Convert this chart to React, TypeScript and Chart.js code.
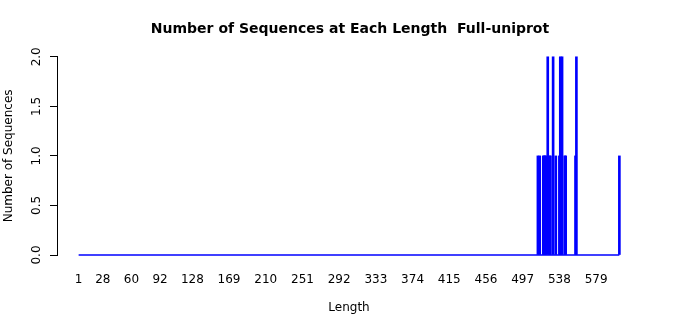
import React, { useEffect, useRef } from "react";
import { Chart, registerables } from "chart.js";

Chart.register(...registerables);

const titleText = "Number of Sequences at Each Length  Full-uniprot";
const xTitle = "Length";
const yTitle = "Number of Sequences";

const lengths = [514, 516, 520, 521, 522, 523, 525, 527, 528, 531, 534, 538, 539, 540, 541, 544, 545, 556, 557, 605];
const counts = [1, 1, 1, 1, 1, 1, 2, 1, 1, 2, 1, 1, 2, 1, 2, 1, 1, 1, 2, 1];
const minLength = 1;
const maxLength = 605;
const xTickValues = [1, 28, 60, 92, 128, 169, 210, 251, 292, 333, 374, 415, 456, 497, 538, 579];
const yTickValues = [0, 0.5, 1, 1.5, 2];

const FONT = '"DejaVu Sans", sans-serif';

export default function App() {
  const ref = useRef<HTMLCanvasElement | null>(null);

  useEffect(() => {
    document.body.style.margin = "0";
    const canvas = ref.current;
    if (!canvas) return;

    const span = maxLength - minLength;
    const xMin = minLength - 0.04 * span;
    const xMax = maxLength + 0.04 * span;

    const yLabelPlugin = {
      id: "yLabels",
      afterDraw(chart: any) {
        const ys = chart.scales.y;
        const ctx = chart.ctx;
        ctx.save();
        ctx.font = `12px ${FONT}`;
        ctx.fillStyle = "#000";
        ctx.textAlign = "center";
        ctx.textBaseline = "middle";
        for (const v of yTickValues) {
          const py = ys.getPixelForValue(v);
          ctx.save();
          ctx.translate(37, py);
          ctx.rotate(-Math.PI / 2);
          ctx.fillText(v.toFixed(1), 0, 0);
          ctx.restore();
        }
        ctx.restore();
      },
    };

    const chart = new Chart(canvas, {
      type: "bar",
      data: {
        datasets: [
          {
            type: "bar",
            data: lengths.map((l, i) => ({ x: l, y: counts[i] })),
            backgroundColor: "#0000FF",
            borderWidth: 0,
            barThickness: 2,
            clip: false,
          } as any,
          {
            type: "line",
            data: [
              { x: minLength, y: 0 },
              { x: maxLength, y: 0 },
            ],
            borderColor: "#0000FF",
            borderWidth: 1.5,
            pointRadius: 0,
            clip: false,
          } as any,
        ],
      },
      options: {
        animation: false,
        responsive: false,
        maintainAspectRatio: false,
        layout: { padding: 0 },
        plugins: {
          legend: { display: false },
          tooltip: { enabled: false },
          title: {
            display: true,
            text: titleText,
            color: "#000",
            font: { family: FONT, size: 14, weight: "bold" },
            padding: { top: 21, bottom: 19 },
          },
        },
        scales: {
          x: {
            type: "linear",
            min: xMin,
            max: xMax,
            offset: false,
            border: { display: false },
            grid: { display: false, drawTicks: false },
            afterBuildTicks: (scale: any) => {
              scale.ticks = xTickValues.map((v) => ({ value: v }));
            },
            afterFit: (scale: any) => {
              scale.height = 60;
            },
            ticks: {
              autoSkip: false,
              maxRotation: 0,
              minRotation: 0,
              padding: 18,
              color: "#000",
              font: { family: FONT, size: 12 },
              callback: (v: any) => String(v),
            },
            title: {
              display: true,
              text: xTitle,
              color: "#000",
              font: { family: FONT, size: 12 },
              padding: { top: 0, bottom: 0 },
            },
          },
          y: {
            type: "linear",
            min: 0,
            max: 2,
            border: { display: true, color: "#000", width: 1 },
            grid: {
              display: true,
              drawOnChartArea: false,
              drawTicks: true,
              tickLength: 7,
              color: "#000",
            },
            afterBuildTicks: (scale: any) => {
              scale.ticks = yTickValues.map((v) => ({ value: v }));
            },
            afterFit: (scale: any) => {
              scale.width = 57;
            },
            ticks: { display: false },
            title: {
              display: true,
              text: yTitle,
              color: "#000",
              font: { family: FONT, size: 12 },
              padding: { top: 2, bottom: 0 },
            },
          },
          yRightSpace: {
            type: "linear",
            position: "right",
            display: true,
            min: 0,
            max: 2,
            border: { display: false },
            grid: { display: false, drawTicks: false },
            ticks: { display: false },
            afterFit: (scale: any) => {
              scale.width = 59;
            },
          },
        },
      } as any,
      plugins: [yLabelPlugin],
    });

    return () => chart.destroy();
  }, []);

  return (
    <div style={{ width: 700, height: 315, background: "#fff" }}>
      <canvas ref={ref} width={700} height={315} style={{ display: "block" }} />
    </div>
  );
}
